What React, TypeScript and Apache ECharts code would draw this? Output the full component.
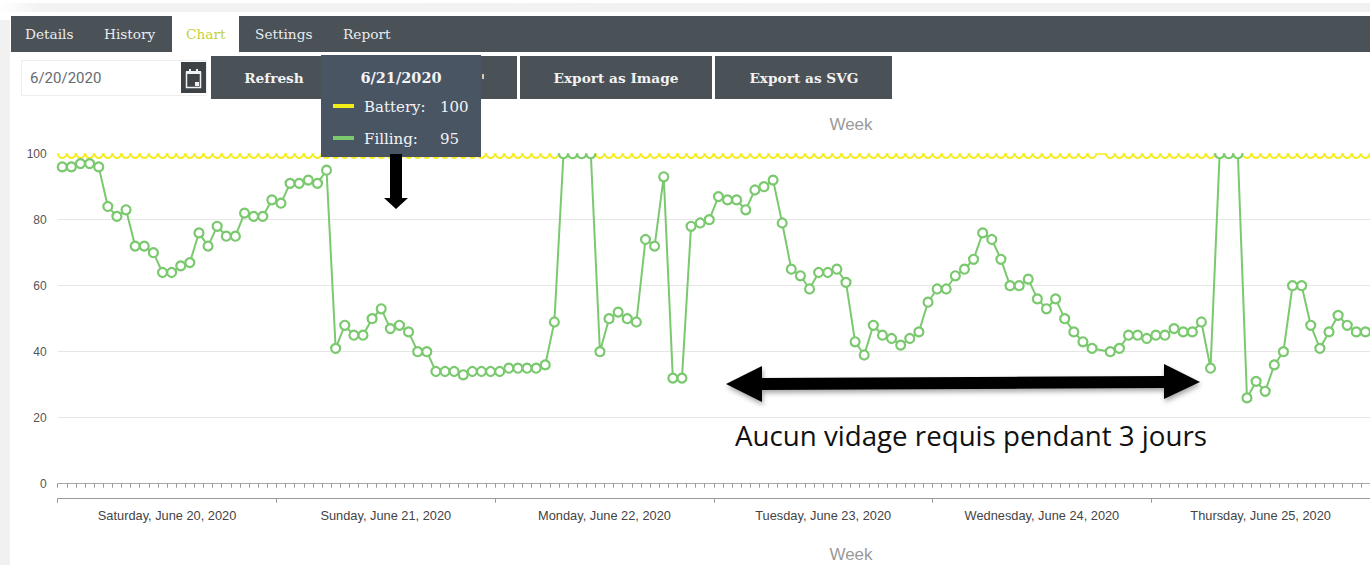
import React, { useEffect, useRef } from "react";
import * as echarts from "echarts";

const dayLabels = [
  "Saturday, June 20, 2020",
  "Sunday, June 21, 2020",
  "Monday, June 22, 2020",
  "Tuesday, June 23, 2020",
  "Wednesday, June 24, 2020",
  "Thursday, June 25, 2020",
];
const hourLabels: string[] = dayLabels.flatMap((d) =>
  ["00","01","02","03","04","05","06","07","08","09","10","11","12","13","14","15","16","17","18","19","20","21","22","23"].map((h) => d + " " + h + ":00")
);
const filling: (number | null)[] = [
  96,96,97,97,96,84,81,83,72,72,70,64,64,66,67,76,72,78,75,75,82,81,81,86,
  85,91,91,92,91,95,41,48,45,45,50,53,47,48,46,40,40,34,34,34,33,34,34,34,
  34,35,35,35,35,36,49,100,100,100,100,40,50,52,50,49,74,72,93,32,32,78,79,80,
  87,86,86,83,89,90,92,79,65,63,59,64,64,65,61,43,39,48,45,44,42,44,46,55,
  59,59,63,65,68,76,74,68,60,60,62,56,53,56,50,46,43,41,null,40,41,45,45,44,
  45,45,47,46,46,49,35,100,100,100,26,31,28,36,40,60,60,48,41,46,51,48,46,46,
];
const battery: (number | null)[] = filling.map((_, i) => (i === 114 ? null : 100));
const yTicks = [0, 20, 40, 60, 80, 100];
const tabs = ["Details", "History", "Chart", "Settings", "Report"];
const SLAB = '"DejaVu Serif", serif';
const SANS = '"Liberation Sans", Arial, sans-serif';
const DARK = "#4a5157";

function slab(text: string, x: number, y: number, fill: string, size = 13.7, weight = "normal", align = "left", z = 20) {
  return { type: "text", x, y, z, style: { text, fill, font: `${weight} ${size}px ${SLAB}`, textAlign: align, textVerticalAlign: "middle" } };
}
function box(x: number, y: number, width: number, height: number, fill: any, z = 10, extra: any = {}) {
  return { type: "rect", z, shape: { x, y, width, height }, style: { fill, ...extra } };
}
function weekTitle(y: number) {
  return { type: "text", x: 851, y, z: 20, style: { text: "Week", fill: "#9a9a9a", font: `17px ${SANS}`, textAlign: "center", textVerticalAlign: "middle" } };
}

const topBand = new echarts.graphic.LinearGradient(0, 0, 1, 0, [
  { offset: 0, color: "#ffffff" },
  { offset: 0.03, color: "#f2f2f2" },
  { offset: 1, color: "#f1f1f1" },
]);

const graphics: any[] = [
  box(0, 3, 1370, 9, topBand, 10),
  box(0, 20, 10, 545, "#f1f1f1", 10),
  box(11, 16, 1359, 36, DARK, 10),
  box(172, 15, 67, 37, "#ffffff", 11),
  slab(tabs[0], 25, 33.5, "#e9ecee"),
  slab(tabs[1], 104, 33.5, "#e9ecee"),
  slab(tabs[2], 186, 33.5, "#c3d23e"),
  slab(tabs[3], 255, 33.5, "#e9ecee"),
  slab(tabs[4], 343, 33.5, "#e9ecee"),
  { type: "rect", z: 10, shape: { x: 21.5, y: 60.5, width: 185, height: 35 }, style: { fill: "#fff", stroke: "#eeeeee" } },
  { type: "text", x: 30, y: 78, z: 20, style: { text: "6/20/2020", fill: "#666b70", font: "15px Roboto", textVerticalAlign: "middle" } },
  box(181, 62, 25, 31, "#3d4247", 11),
  { type: "rect", z: 12, shape: { x: 186.5, y: 72.5, width: 14, height: 15 }, style: { fill: "none", stroke: "#f0f0f0", lineWidth: 1.5 } },
  box(186, 71, 15, 3, "#f0f0f0", 12),
  box(189, 69, 2, 3, "#f0f0f0", 12),
  box(196, 69, 2, 3, "#f0f0f0", 12),
  box(195, 82, 4, 4, "#f0f0f0", 12),
  box(211, 56, 306, 43, DARK, 10),
  box(482, 74, 2, 5, "#d9c9b0", 11),
  box(520, 56, 192, 43, DARK, 10),
  box(715, 56, 177, 43, DARK, 10),
  slab("Refresh", 274, 78, "#f2f2f2", 13.7, "bold", "center"),
  slab("Export as Image", 616, 78, "#f2f2f2", 13.7, "bold", "center"),
  slab("Export as SVG", 804, 78, "#f2f2f2", 13.7, "bold", "center"),
  weekTitle(124),
  weekTitle(554),
  // white mask that trims the markers sitting on the 100 line, as the plot's clip does in the reference
  box(57, 140, 1313, 13.3, "#ffffff", 5),
  // tooltip
  box(321, 55, 160, 102, "#4a5564", 30),
  slab("6/21/2020", 401, 77, "#f2f4f6", 14.5, "bold", "center", 31),
  box(333, 104, 21, 4, "#f2ec18", 31),
  box(333, 136, 21, 4, "#7bc96f", 31),
  slab("Battery:", 364, 107, "#f2f4f6", 15, "normal", "left", 31),
  slab("100", 440, 107, "#f2f4f6", 15, "normal", "left", 31),
  slab("Filling:", 364, 139, "#f2f4f6", 15, "normal", "left", 31),
  slab("95", 440, 139, "#f2f4f6", 15, "normal", "left", 31),
  // annotation arrows
  { type: "polygon", z: 32, shape: { points: [[390, 154], [402, 154], [402, 198], [408, 198], [396, 209], [384, 198], [390, 198]] }, style: { fill: "#000" } },
  {
    type: "polygon", z: 25,
    shape: { points: [[726, 384], [762, 366], [762, 378], [1164, 376], [1164, 364], [1200, 382], [1164, 399], [1164, 388], [762, 390], [762, 402]] },
    style: { fill: "#000", shadowBlur: 5, shadowOffsetY: 3, shadowOffsetX: 1, shadowColor: "rgba(0,0,0,0.35)" },
  },
  { type: "text", x: 971, y: 435, z: 25, style: { text: "Aucun vidage requis pendant 3 jours", fill: "#111", font: '27.7px "Open Sans"', textAlign: "center", textVerticalAlign: "middle" } },
];

const option: any = {
  animation: false,
  backgroundColor: "#ffffff",
  grid: { left: 57.7, top: 153.7, width: 1315.2, height: 330, containLabel: false },
  xAxis: [
    {
      type: "category", data: hourLabels, position: "bottom", boundaryGap: true,
      axisLine: { lineStyle: { color: "#aaaaaa", width: 1 } },
      axisTick: { show: true, interval: 0, length: 4, lineStyle: { color: "#999999" } },
      axisLabel: { show: false }, splitLine: { show: false },
    },
    {
      type: "category", data: dayLabels, position: "bottom", offset: 15, boundaryGap: true,
      axisLine: { show: true, lineStyle: { color: "#999999", width: 1 } },
      axisTick: { show: true, interval: 0, length: 4, lineStyle: { color: "#999999" } },
      axisLabel: { show: true, interval: 0, margin: 10, color: "#444", fontSize: 12.8, fontFamily: SANS },
    },
  ],
  yAxis: {
    type: "value", min: yTicks[0], max: yTicks[yTicks.length - 1], interval: 20,
    axisLine: { show: false }, axisTick: { show: false },
    axisLabel: { color: "#555", fontSize: 12, fontFamily: SANS, margin: 11 },
    splitLine: { lineStyle: { color: "#e6e6e6", width: 1 } },
  },
  series: [
    {
      name: "Battery", type: "line", data: battery, xAxisIndex: 0, connectNulls: true, clip: false,
      symbol: "circle", symbolSize: 8.5, showAllSymbol: true,
      lineStyle: { color: "#f5ec1c", width: 2 },
      itemStyle: { color: "#ffffff", borderColor: "#f5ec1c", borderWidth: 2 },
      z: 2,
    },
    {
      name: "Filling", type: "line", data: filling, xAxisIndex: 0, connectNulls: true, clip: false,
      symbol: "circle", symbolSize: 9, showAllSymbol: true,
      lineStyle: { color: "#7bc96f", width: 2 },
      itemStyle: { color: "#ffffff", borderColor: "#7bc96f", borderWidth: 2.2 },
      z: 3,
    },
  ],
  graphic: { elements: graphics },
};

export default function App() {
  const ref = useRef<HTMLDivElement>(null);
  useEffect(() => {
    if (!ref.current) return;
    const chart = echarts.init(ref.current, undefined, { renderer: "svg" });
    chart.setOption(option);
    return () => chart.dispose();
  }, []);
  return <div ref={ref} style={{ position: "absolute", left: 0, top: 0, width: 1370, height: 565, overflow: "hidden" }} />;
}
